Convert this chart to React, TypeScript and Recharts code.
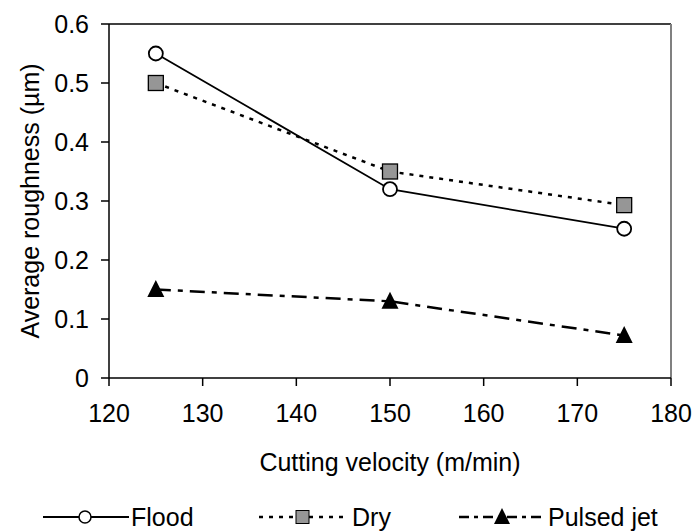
import React from 'react';
import { LineChart, Line, XAxis, YAxis, ReferenceLine, Legend } from 'recharts';

const velocities = [125, 150, 175];
const flood = [0.55, 0.32, 0.253];
const dry = [0.5, 0.35, 0.293];
const pulsedJet = [0.15, 0.13, 0.072];
const xTicks = [120, 130, 140, 150, 160, 170, 180];
const yTicks = [0, 0.1, 0.2, 0.3, 0.4, 0.5, 0.6];

const data = velocities.map((v, i) => ({ v, flood: flood[i], dry: dry[i], pulsed: pulsedJet[i] }));

const FONT = '"Liberation Sans", Arial, sans-serif';
const FS = 25;
const DRY_DASH = '4 6';
const JET_DASH = '15 7 5 7';

const Circle = (p: any) => (
  <circle cx={p.cx} cy={p.cy} r={7} fill="#fff" stroke="#000" strokeWidth={1.8} />
);
const Square = (p: any) => (
  <rect x={p.cx - 7.5} y={p.cy - 7.5} width={15} height={15} fill="#969696" stroke="#000" strokeWidth={1.3} />
);
const Tri = (p: any) => (
  <path d={`M${p.cx},${p.cy - 9.5} L${p.cx + 8.5},${p.cy + 7.5} L${p.cx - 8.5},${p.cy + 7.5} Z`} fill="#000" />
);

const LegendContent = () => {
  const item = (left: number, dash: string | undefined, sw: number, marker: React.ReactNode, label: string, textLeft: number) => (
    <>
      <svg width={86} height={20} style={{ position: 'absolute', left, top: 16 }}>
        <line x1={0} y1={10} x2={86} y2={10} stroke="#000" strokeWidth={sw} strokeDasharray={dash} />
        {marker}
      </svg>
      <span style={{ position: 'absolute', left: textLeft, top: 12, lineHeight: '28px', fontFamily: FONT, fontSize: FS, color: '#000', whiteSpace: 'nowrap' }}>{label}</span>
    </>
  );
  return (
    <div style={{ position: 'relative', height: 40, width: 697 }}>
      {item(43, undefined, 1.8, <circle cx={42} cy={10} r={6} fill="#fff" stroke="#000" strokeWidth={1.5} />, 'Flood', 131)}
      {item(259, DRY_DASH, 2.5, <rect x={37} y={3.5} width={13} height={13} fill="#969696" stroke="#000" strokeWidth={1} />, 'Dry', 352)}
      {item(459, '10 5 4 5', 2.5, <path d="M43,1 L51,17 L35,17 Z" fill="#000" />, 'Pulsed jet', 548)}
    </div>
  );
};

export default function App() {
  return (
    <div style={{ position: 'absolute', left: 0, top: 0 }}>
      <LineChart width={697} height={531} data={data} margin={{ top: 24, right: 26, left: 0, bottom: 0 }}>
        <XAxis
          dataKey="v"
          type="number"
          domain={[120, 180]}
          ticks={xTicks}
          height={113}
          tickSize={8}
          tickMargin={18}
          stroke="#000"
          strokeWidth={1.5}
          tick={{ fontFamily: FONT, fontSize: FS, fill: '#000' }}
          label={(props: any) => {
            const vb = props.viewBox;
            return (
              <text x={vb.x + vb.width / 2} y={vb.y + 84} dy="0.35em" textAnchor="middle" fontFamily={FONT} fontSize={FS} fill="#000">
                Cutting velocity (m/min)
              </text>
            );
          }}
        />
        <YAxis
          type="number"
          domain={[0, 0.6]}
          ticks={yTicks}
          width={109}
          tickSize={8}
          tickMargin={12}
          stroke="#000"
          strokeWidth={1.5}
          tickFormatter={(v: number) => String(v)}
          tick={{ fontFamily: FONT, fontSize: FS, fill: '#000' }}
          label={(props: any) => {
            const vb = props.viewBox;
            const cx = 30;
            const cy = vb.y + vb.height / 2;
            return (
              <text x={cx} y={cy} dy="0.35em" transform={`rotate(-90, ${cx}, ${cy})`} textAnchor="middle" fontFamily={FONT} fontSize={FS} fill="#000">
                Average roughness (µm)
              </text>
            );
          }}
        />
        <ReferenceLine y={0.6} stroke="#000" strokeWidth={1.5} ifOverflow="visible" />
        <ReferenceLine x={180} stroke="#808080" strokeWidth={2} ifOverflow="visible" />
        <Legend verticalAlign="bottom" content={<LegendContent />} />
        <Line dataKey="dry" stroke="#000" strokeWidth={2.5} strokeDasharray={DRY_DASH} dot={<Square />} isAnimationActive={false} />
        <Line dataKey="flood" stroke="#000" strokeWidth={1.8} dot={<Circle />} isAnimationActive={false} />
        <Line dataKey="pulsed" stroke="#000" strokeWidth={2.5} strokeDasharray={JET_DASH} dot={<Tri />} isAnimationActive={false} />
      </LineChart>
    </div>
  );
}
